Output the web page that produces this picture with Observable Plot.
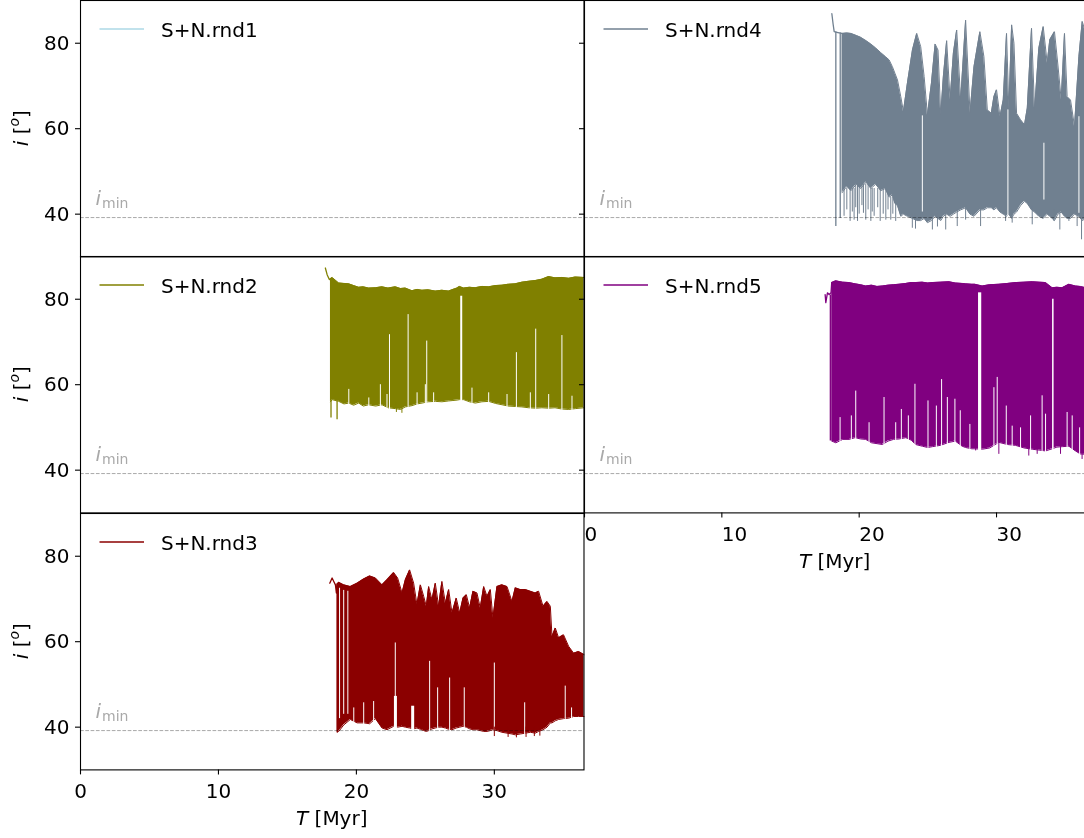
<!DOCTYPE html>
<html><head><meta charset="utf-8">
<script src="https://cdn.jsdelivr.net/npm/d3@7"></script>
<script src="https://cdn.jsdelivr.net/npm/@observablehq/plot@0.6"></script>
<style>
html,body{margin:0;padding:0;background:#fff;overflow:hidden;}
#fig{position:relative;width:1084px;height:838px;overflow:hidden;background:#fff;}
#fig > div{position:absolute;}
#fig svg{max-width:none !important;}
</style></head><body><div id="fig"></div>
<script>
// ---------- data ----------
const seriesLabels = ["S+N.rnd1", "S+N.rnd2", "S+N.rnd3", "S+N.rnd4", "S+N.rnd5"];
const seriesColors = ["lightblue", "olive", "darkred", "slategray", "purple"];
const xTicks = [0, 10, 20, 30];
const yTicks = [40, 60, 80];
const xDomain = [0, 36.5];
const yDomain = [30, 90];
const iMin = 39.2;

// rnd1: nothing visible in the plotted range
const rnd1Head = [];
const rnd1Band = [];
const rnd1Spikes = [];
const rnd1Gaps = [];

// band rows: [T, upper, lower]; spikes/gaps: [T, from, to, width]
const rnd2Head = [[17.75, 87.3], [17.88, 85.75], [18.04, 84.6], [18.12, 84.8]];
const rnd2Band = [
  [18.12, 84.8, 56.0], [18.24, 85.1, 56.5], [18.72, 83.8, 56.1], [19.1, 83.7, 55.5], [19.45, 83.6, 55.7],
  [19.8, 83.2, 55.2], [20.17, 82.8, 55.7], [20.5, 82.9, 55.0], [20.89, 82.6, 55.3], [21.4, 82.7, 55.0],
  [21.86, 82.9, 55.3], [22.3, 82.6, 54.6], [22.83, 82.9, 54.4], [23.2, 82.5, 54.2], [23.55, 82.6, 54.8],
  [24.03, 82.0, 55.1], [24.4, 82.3, 55.5], [24.76, 82.1, 55.7], [25.2, 82.2, 56.0], [25.73, 81.9, 56.1],
  [26.2, 82.1, 56.0], [26.69, 81.9, 56.2], [27.0, 82.3, 56.3], [27.3, 82.6, 56.4], [27.47, 83.0, 56.5],
  [27.78, 82.6, 56.5], [28.2, 82.8, 56.0], [28.62, 82.7, 55.7], [29.1, 83.0, 56.0], [29.59, 82.9, 56.1],
  [30.1, 83.2, 55.6], [30.56, 83.3, 55.3], [31.0, 83.5, 55.0], [31.52, 83.6, 54.9], [32.0, 84.0, 54.8],
  [32.49, 84.2, 54.6], [33.0, 84.4, 54.5], [33.45, 84.7, 54.6], [33.94, 85.3, 54.5], [34.4, 85.0, 54.6],
  [34.9, 85.1, 54.3], [35.4, 84.9, 54.2], [35.87, 85.2, 54.4], [36.5, 85.1, 54.6]
];
const rnd2Spikes = [[18.16, 52.2, 57, 1.3], [18.6, 51.8, 57, 1.3], [22.9, 53.5, 56, 1], [23.3, 53.3, 56, 1]];
const rnd2Gaps = [
  [22.4, 50, 71.7, 1], [23.75, 50, 76.4, 1], [25.1, 50, 70.2, 1], [27.6, 50, 80.7, 2],
  [31.6, 50, 67.5, 1], [33.0, 50, 73.0, 1], [34.9, 50, 71.5, 1],
  [19.45, 50, 58.9, 1], [20.9, 50, 56.9, 1], [21.74, 50, 60.0, 1], [22.22, 50, 57.7, 1], [24.4, 50, 58.1, 1],
  [25.0, 50, 60.0, 1], [25.6, 50, 58.1, 1], [28.38, 50, 59.2, 1], [29.59, 50, 58.1, 1], [30.92, 50, 57.7, 1],
  [32.61, 50, 58.1, 1], [33.94, 50, 57.7, 1], [35.63, 50, 57.3, 1]
];

const rnd3Head = [[18.07, 73.7], [18.24, 74.9], [18.36, 74.1], [18.48, 73.3], [18.55, 71.4], [18.6, 73.5]];
const rnd3Band = [
  [18.6, 73.5, 39.0], [18.72, 73.9, 39.0], [19.08, 73.3, 40.5], [19.56, 72.9, 41.8], [20.05, 73.7, 41.0],
  [20.53, 74.7, 41.0], [20.96, 75.4, 40.8], [21.38, 74.9, 42.0], [21.86, 73.3, 39.8], [22.22, 74.5, 39.4],
  [22.7, 76.2, 40.2], [22.99, 74.9, 40.0], [23.31, 71.4, 40.2], [23.55, 74.5, 40.0], [23.86, 76.8, 39.8],
  [24.15, 73.7, 39.6], [24.39, 68.7, 39.8], [24.64, 73.3, 39.5], [24.88, 70.6, 39.2], [25.07, 68.3, 39.0],
  [25.24, 72.9, 39.2], [25.48, 69.8, 39.6], [25.72, 73.7, 39.8], [25.96, 68.3, 40.0], [26.2, 74.1, 40.0],
  [26.45, 69.0, 39.8], [26.69, 72.2, 39.5], [26.93, 66.7, 39.4], [27.24, 70.2, 39.8], [27.49, 66.7, 40.0],
  [27.73, 70.2, 40.2], [27.97, 71.0, 40.0], [28.21, 67.9, 39.6], [28.45, 71.8, 39.4], [28.74, 71.4, 39.4],
  [28.98, 67.9, 39.2], [29.23, 72.9, 39.0], [29.47, 70.6, 39.0], [29.71, 72.2, 39.2], [29.9, 65.5, 39.4],
  [30.19, 72.9, 39.2], [30.55, 73.3, 38.8], [30.92, 72.9, 38.6], [31.28, 69.4, 38.4], [31.52, 72.6, 38.2],
  [31.88, 72.2, 38.4], [32.25, 72.2, 38.6], [32.61, 71.8, 38.8], [32.97, 71.4, 38.6], [33.21, 71.8, 39.0],
  [33.53, 68.3, 39.4], [33.82, 69.4, 40.0], [34.06, 68.3, 41.0], [34.18, 61.2, 41.0], [34.42, 63.2, 41.5],
  [34.66, 60.9, 41.8], [35.02, 61.6, 42.0], [35.39, 58.9, 42.1], [35.75, 57.3, 42.5], [36.11, 57.7, 42.5],
  [36.5, 57.0, 42.5]
];
const rnd3Spikes = [
  [18.62, 38.6, 73, 1.3], [30.0, 37.8, 40, 1], [31.0, 37.6, 40, 1], [31.6, 37.5, 40, 1],
  [32.3, 37.6, 40, 1], [32.9, 37.8, 40, 1], [33.3, 37.9, 40, 1]
];
const rnd3Gaps = [
  [18.78, 42, 72.5, 1], [19.08, 43, 72.0, 1], [19.38, 43, 71.8, 1],
  [22.82, 31, 59.7, 1], [25.31, 31, 55.4, 1], [26.76, 31, 51.5, 1], [27.82, 31, 49.2, 1],
  [30.0, 31, 55.0, 1], [35.14, 31, 49.6, 1], [32.2, 31, 45.7, 1],
  [22.83, 31, 47.2, 3], [24.08, 31, 44.9, 3], [25.89, 31, 49.2, 1],
  [19.81, 31, 44.5, 1], [20.53, 31, 45.7, 1], [21.25, 31, 46.0, 1], [35.6, 31, 44.5, 1]
];

const rnd4Head = [[18.01, 86.9], [18.1, 84.5], [18.18, 82.7], [18.45, 82.5], [18.75, 82.3]];
const rnd4Band = [
  [18.75, 82.3, 45.0], [19.1, 82.4, 46.5], [19.4, 82.3, 45.5], [19.8, 81.8, 47.0], [20.1, 81.4, 46.0],
  [20.5, 80.6, 47.5], [20.85, 79.8, 46.0], [21.2, 78.9, 47.0], [21.57, 77.8, 45.5], [21.9, 76.9, 46.0],
  [22.18, 76.1, 44.0], [22.42, 74.5, 44.5], [22.6, 73.0, 42.5], [22.79, 71.4, 42.0], [23.03, 67.5, 39.5],
  [23.22, 64.0, 40.0], [23.51, 70.6, 39.5], [23.88, 78.4, 39.0], [24.19, 82.3, 38.5], [24.48, 79.2, 38.5],
  [24.73, 72.2, 39.0], [24.97, 63.2, 38.0], [25.26, 70.6, 38.5], [25.53, 79.8, 39.5], [25.74, 78.4, 39.0],
  [25.94, 63.2, 38.5], [26.13, 72.2, 39.5], [26.37, 80.6, 40.0], [26.62, 66.7, 39.5], [26.86, 77.7, 40.0],
  [27.1, 83.1, 40.5], [27.39, 66.7, 41.0], [27.75, 85.4, 41.5], [28.07, 63.6, 40.0], [28.36, 74.5, 39.5],
  [28.79, 82.7, 41.0], [29.08, 76.9, 41.0], [29.33, 64.4, 41.5], [29.62, 63.6, 41.5], [29.81, 67.5, 41.0],
  [30.0, 69.1, 41.5], [30.25, 62.8, 40.5], [30.49, 66.7, 40.0], [30.73, 82.3, 39.5], [30.9, 64.4, 40.0],
  [31.1, 84.3, 39.0], [31.27, 80.0, 40.0], [31.46, 63.6, 40.5], [31.75, 62.1, 42.0], [32.04, 60.9, 43.0],
  [32.24, 64.8, 42.5], [32.55, 83.5, 41.0], [32.77, 64.4, 40.5], [33.08, 78.8, 39.5], [33.4, 83.9, 39.0],
  [33.69, 75.3, 40.0], [33.88, 80.8, 39.5], [34.22, 82.7, 38.5], [34.47, 74.9, 40.0], [34.71, 66.7, 40.5],
  [34.95, 82.3, 39.5], [35.14, 67.5, 39.0], [35.39, 66.7, 39.0], [35.68, 60.5, 40.0], [36.0, 76.9, 39.5],
  [36.24, 85.1, 38.5], [36.5, 82.3, 39.0]
];
const rnd4Spikes = [
  [18.30, 37.1, 82.6, 1.3], [18.62, 39.0, 82.4, 1.3],
  [18.9, 39.5, 46, 1], [19.1, 41.0, 46, 1], [19.34, 38.3, 46, 1], [19.5, 40.5, 46, 1], [19.63, 38.6, 46, 1],
  [19.75, 41.5, 47, 1], [19.88, 38.3, 47, 1], [20.0, 40.0, 47, 1], [20.2, 42.0, 47, 1], [20.31, 40.2, 47, 1],
  [20.48, 38.6, 47, 1], [20.65, 41.0, 47, 1], [20.85, 38.3, 46, 1], [20.95, 40.5, 46, 1], [21.09, 39.5, 46, 1],
  [21.35, 41.5, 46, 1], [21.53, 38.3, 46, 1], [21.75, 40.0, 46, 1], [21.94, 38.6, 46, 1], [22.1, 41.0, 45, 1],
  [22.3, 38.6, 44, 1], [22.45, 40.0, 44, 1], [22.66, 38.3, 43, 1],
  [23.87, 36.7, 40, 1], [24.1, 36.5, 40, 1], [25.33, 36.3, 40, 1], [25.7, 37.0, 40, 1],
  [26.3, 36.3, 40, 1], [27.14, 37.1, 41, 1], [27.75, 38.6, 42, 1], [28.84, 37.1, 42, 1], [30.66, 38.3, 41, 1],
  [31.14, 37.9, 41, 1], [32.6, 37.5, 42, 1], [34.18, 38.3, 41, 1], [34.61, 36.3, 41, 1], [35.27, 38.3, 41, 1],
  [35.87, 37.1, 41, 1], [36.19, 34.0, 41, 1]
];
const rnd4Gaps = [[24.6, 40.5, 63.0, 1], [30.83, 39.4, 64.4, 1], [33.45, 43.3, 56.6, 1], [36.0, 40.2, 62.8, 1]];

const rnd5Head = [[17.52, 81.1], [17.57, 79.2], [17.69, 81.5], [17.81, 81.1], [17.95, 81.5], [18.0, 83.9]];
const rnd5Band = [
  [18.0, 83.9, 46.8], [18.3, 84.3, 46.4], [18.8, 84.0, 47.2], [19.26, 83.9, 47.2], [19.7, 83.6, 47.6],
  [20.1, 83.4, 47.3], [20.48, 83.1, 47.2], [20.9, 83.3, 46.4], [21.3, 83.0, 46.2], [21.69, 83.1, 46.0],
  [22.1, 83.3, 46.8], [22.5, 83.4, 47.2], [22.9, 83.5, 47.3], [23.4, 83.7, 47.6], [23.8, 83.9, 47.0],
  [24.11, 83.9, 46.0], [24.6, 84.0, 45.6], [25.0, 83.8, 45.3], [25.33, 83.9, 45.5], [25.9, 84.0, 45.8],
  [26.54, 84.1, 46.5], [27.0, 83.8, 46.8], [27.5, 83.7, 45.6], [27.75, 83.6, 45.3], [28.2, 83.5, 45.0],
  [28.43, 83.5, 45.0], [28.96, 83.1, 44.9], [29.5, 83.4, 45.2], [30.17, 83.5, 46.5], [30.8, 83.7, 46.0],
  [31.39, 83.9, 45.8], [32.0, 84.0, 45.2], [32.6, 84.1, 44.9], [33.1, 84.0, 44.7], [33.57, 83.9, 44.5],
  [34.05, 82.7, 45.0], [34.4, 82.8, 45.4], [34.78, 82.7, 45.5], [35.27, 83.5, 45.6], [35.75, 83.1, 44.5],
  [36.1, 83.0, 43.8], [36.5, 82.7, 43.7]
];
const rnd5Spikes = [
  [17.9, 46.8, 81, 1.3], [28.48, 44.5, 47, 1], [30.17, 43.7, 47, 1], [32.35, 43.3, 46, 1],
  [32.96, 43.7, 46, 1], [34.66, 43.7, 46, 1], [36.23, 42.5, 45, 1]
];
const rnd5Gaps = [
  [28.77, 43.5, 81.5, 3.2], [34.1, 43.5, 80.0, 1.5],
  [18.61, 43.5, 52.3, 1], [19.43, 43.5, 52.7, 1], [19.75, 43.5, 58.5, 1], [20.72, 43.5, 51.1, 1],
  [21.81, 43.5, 57.0, 1], [22.66, 43.5, 51.1, 1], [23.07, 43.5, 54.2, 1], [23.58, 43.5, 52.7, 1],
  [24.06, 43.5, 60.1, 1], [25.01, 43.5, 56.2, 1], [25.62, 43.5, 55.0, 1], [26.0, 43.5, 61.2, 1],
  [26.42, 43.5, 57.0, 1], [26.97, 43.5, 56.6, 1], [27.36, 43.5, 53.9, 1], [28.06, 43.5, 50.7, 1],
  [29.81, 43.5, 59.3, 1], [30.05, 43.5, 61.7, 1], [30.71, 43.5, 55.0, 1], [31.14, 43.5, 50.3, 1],
  [31.75, 43.5, 49.9, 1], [32.48, 43.5, 52.7, 1], [33.32, 43.5, 57.4, 1], [33.57, 43.5, 53.1, 1],
  [35.14, 43.5, 53.5, 1], [35.51, 43.5, 52.7, 1], [36.05, 43.5, 49.9, 1]
];

// ---------- layout ----------
const FONT = "DejaVu Sans";
const PH = 256.4;
const colX = [80, 583.5];
const colW = [503.5, 501.3];
const rowY = [0, 256.4, 512.8];

const panels = [
  {i: 0, col: 0, row: 0, head: rnd1Head, band: rnd1Band, spikes: rnd1Spikes, gaps: rnd1Gaps, xAxis: false},
  {i: 1, col: 0, row: 1, head: rnd2Head, band: rnd2Band, spikes: rnd2Spikes, gaps: rnd2Gaps, xAxis: false},
  {i: 2, col: 0, row: 2, head: rnd3Head, band: rnd3Band, spikes: rnd3Spikes, gaps: rnd3Gaps, xAxis: true},
  {i: 3, col: 1, row: 0, head: rnd4Head, band: rnd4Band, spikes: rnd4Spikes, gaps: rnd4Gaps, xAxis: false},
  {i: 4, col: 1, row: 1, head: rnd5Head, band: rnd5Band, spikes: rnd5Spikes, gaps: rnd5Gaps, xAxis: true}
];

const fig = document.getElementById("fig");

function makePanel(p) {
  const color = seriesColors[p.i];
  const L = p.col === 0 ? 80 : 20, R = 10, T = 10, B = p.xAxis ? 80 : 10;
  const PW = colW[p.col];
  const W = L + PW + R, H = T + PH + B;
  const marks = [
    Plot.areaY(p.band, {x: d => d[0], y1: d => d[2], y2: d => d[1], fill: color, curve: "linear"}),
    Plot.line(p.band, {x: d => d[0], y: d => d[1], stroke: color, strokeWidth: 1}),
    Plot.line(p.band, {x: d => d[0], y: d => d[2], stroke: color, strokeWidth: 1}),
    Plot.line(p.head, {x: d => d[0], y: d => d[1], stroke: color, strokeWidth: 1.3}),
    Plot.ruleX(p.gaps, {x: d => d[0], y1: d => d[1], y2: d => d[2], stroke: "white", strokeWidth: d => d[3]}),
    Plot.ruleX(p.spikes, {x: d => d[0], y1: d => d[1], y2: d => d[2], stroke: color, strokeWidth: d => d[3]}),
    Plot.ruleY([iMin], {y: d => d, stroke: "darkgray", strokeWidth: 1, strokeDasharray: "3.7,1.6", mixBlendMode: "multiply"}),
    Plot.text([iMin], {y: d => d, text: () => "i", frameAnchor: "left", dx: 15, dy: -12.5, lineAnchor: "bottom", textAnchor: "start", fontStyle: "italic", fill: "darkgray", fontSize: 20}),
    Plot.text([iMin], {y: d => d, text: () => "min", frameAnchor: "left", dx: 21.5, dy: -10, lineAnchor: "bottom", textAnchor: "start", fill: "darkgray", fontSize: 14}),
    Plot.frame({stroke: "black", strokeWidth: 1.1})
  ];
  if (p.col === 0) {
    marks.push(Plot.axisY({ticks: yTicks, tickSize: 5, tickPadding: 6, label: null, stroke: "black", strokeWidth: 1.1, fill: "black"}));
  } else {
    marks.push(Plot.axisY({ticks: yTicks, tickSize: 5, tickFormat: () => "", label: null, stroke: "black", strokeWidth: 1.1}));
  }
  if (p.xAxis) {
    const opts = {ticks: xTicks, tickSize: 5, tickPadding: 9, label: null, stroke: "black", strokeWidth: 1.1, fill: "black"};
    if (p.col === 1) opts.textAnchor = "start";
    marks.push(Plot.axisX(opts));
  }
  const svg = Plot.plot({
    width: W, height: H,
    marginLeft: L, marginRight: R, marginTop: T, marginBottom: B,
    x: {domain: xDomain, axis: p.xAxis ? undefined : null},
    y: {domain: yDomain, axis: null},
    style: {fontFamily: FONT, fontSize: "20px", background: "transparent", overflow: "visible", color: "black", maxWidth: "none", width: W + "px", height: H + "px"},
    marks
  });
  const s = d3.select(svg);
  // legend
  const lg = s.append("g");
  lg.append("line").attr("x1", L + 19.5).attr("x2", L + 64).attr("y1", T + 29).attr("y2", T + 29)
    .attr("stroke", color).attr("stroke-width", 1.5);
  lg.append("text").attr("x", L + 81).attr("y", T + 37).attr("text-anchor", "start")
    .attr("fill", "black").style("font-size", "20px").style("font-family", FONT).text(seriesLabels[p.i]);
  // y label
  if (p.col === 0) {
    const t = s.append("text").attr("transform", `translate(${L - 58},${T + PH / 2}) rotate(-90)`)
      .attr("text-anchor", "middle").attr("dominant-baseline", "middle").attr("fill", "black")
      .style("font-size", "20px").style("font-family", FONT);
    t.append("tspan").attr("font-style", "italic").text("i");
    t.append("tspan").text(" [");
    t.append("tspan").attr("font-style", "italic").attr("font-size", "14px").attr("dy", "-7").text("o");
    t.append("tspan").attr("dy", "7").text("]");
  }
  if (p.xAxis) {
    const t = s.append("text").attr("x", L + PW / 2).attr("y", T + PH + 56).attr("text-anchor", "middle")
      .attr("fill", "black").style("font-size", "20px").style("font-family", FONT);
    t.append("tspan").attr("font-style", "italic").text("T");
    t.append("tspan").text(" [Myr]");
  }
  const wrap = document.createElement("div");
  wrap.style.left = (colX[p.col] - L) + "px";
  wrap.style.top = (rowY[p.row] - T) + "px";
  wrap.style.width = W + "px";
  wrap.style.height = H + "px";
  wrap.appendChild(svg);
  fig.appendChild(wrap);
}
panels.forEach(makePanel);
</script></body></html>
